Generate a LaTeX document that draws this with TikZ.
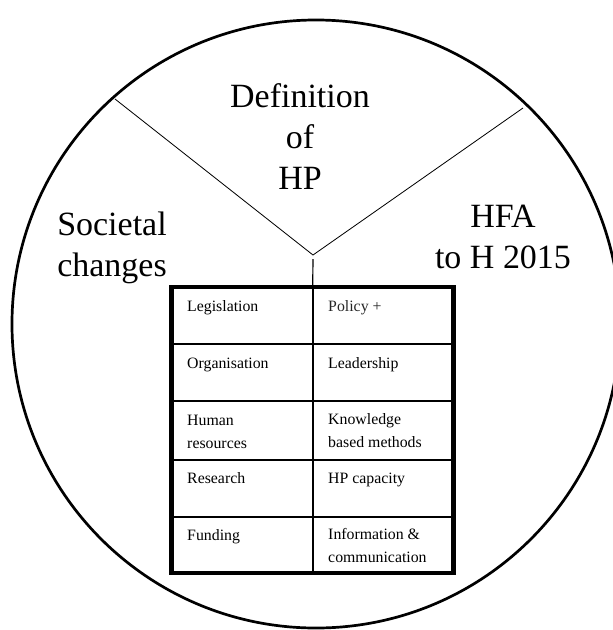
\documentclass[tikz,border=0pt]{standalone}
\usepackage{fontspec}
\setmainfont{Liberation Serif}
\usetikzlibrary{calc, positioning}

\begin{document}
\begin{tikzpicture}[x=0.03cm, y=-0.03cm,
    bigtext/.style={font=\fontsize{29}{34.7}\selectfont, align=center, inner sep=0pt, anchor=base},
    celltext/.style={font=\fontsize{13.5}{19.6}\selectfont, align=left, inner sep=0pt, anchor=base west},
    gridline/.style={line width=1.5pt}]

    % 0. Fix the page size (pixels of the reference)
    \useasboundingbox (0,0) rectangle (613,630);

    % 1. The big circle
    \coordinate (O) at (316,324);
    \draw[line width=2.3pt] (O) circle (9.12cm);

    % 2. The two dividing lines meeting in the apex
    \coordinate (L) at (115,99);
    \coordinate (R) at (523,108);
    \coordinate (apex) at (313,255);
    \draw[line width=0.7pt] (L) -- (apex) -- (R);

    % 3. Text of the three sectors (base = last line)
    \node[bigtext] (def) at (300,189) {Definition\\of\\HP};
    \node[bigtext] (soc) at (112,276) {Societal\\changes};
    \node[bigtext] (hfa) at (503,268) {HFA\\to H 2015};

    % 4. The table: outer frame, rows and middle column
    \coordinate (tl) at (171.5,287);
    \coordinate (br) at (453.5,573);
    \coordinate (mid) at (312.7,287);
    \foreach \y in {344,401,460,517}
        \draw[gridline] (171.5,\y) -- (453.5,\y);
    \draw[gridline] (mid) -- (mid |- br);
    \draw[line width=4pt] (tl) rectangle (br);

    % 5. Stem from the apex down to the table
    \draw[line width=1pt] ($(apex) + (0,4)$) -- (mid);

    % 6. The cells (left column, then right column)
    \node[celltext] (leg) at (187,311.5) {Legislation};
    \node[celltext] (org) at (187,368) {Organisation};
    \node[celltext] (hum) at (187,448) {Human\\resources};
    \node[celltext] (res) at (187,483.5) {Research};
    \node[celltext] (fun) at (187,540) {Funding};

    \node[celltext, black!85] (pol) at (328,311.5) {Policy +};
    \node[celltext] (lea) at (328,368) {Leadership};
    \node[celltext] (kno) at (328,447) {Knowledge\\based methods};
    \node[celltext] (cap) at (328,483.5) {HP capacity};
    \node[celltext] (inf) at (328,562) {Information \&\\communication};

\end{tikzpicture}
\end{document}
